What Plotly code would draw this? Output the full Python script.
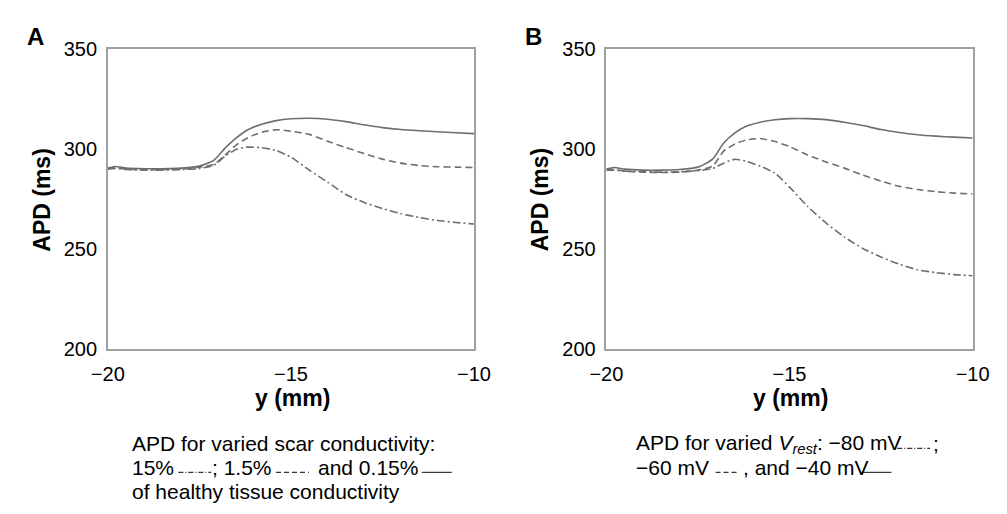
import plotly.graph_objects as go

# ---------------- data ----------------
y_mm = [-20, -19.8, -19.5, -19, -18.5, -18, -17.5, -17.1, -16.8, -16.5, -16.2, -15.8,
        -15.4, -15, -14.5, -14, -13.5, -13, -12.5, -12, -11.5, -11, -10.5, -10]

# Panel A: scar conductivity (% of healthy tissue)
a_015 = [290.5, 291.3, 290.5, 290.2, 290.2, 290.5, 291.5, 294.5, 300.5, 305.5, 309.5, 312.5,
         314.3, 315.2, 315.5, 315.0, 313.8, 312.2, 310.8, 309.8, 309.2, 308.7, 308.2, 307.8]
a_15 = [290.5, 290.8, 290.0, 289.7, 289.8, 290.0, 291.0, 292.5, 297.0, 302.0, 305.5, 308.5,
        309.7, 309.0, 307.4, 304.0, 300.8, 297.8, 295.0, 293.0, 291.8, 291.2, 291.0, 290.8]
a_150 = [290.0, 290.3, 289.8, 289.5, 289.5, 289.8, 290.3, 292.0, 296.5, 299.8, 301.0, 300.7,
         299.3, 296.0, 289.5, 283.5, 277.3, 273.3, 270.3, 267.7, 265.8, 264.3, 263.3, 262.5]

# Panel B: resting potential
b_m40 = [290.0, 290.8, 290.0, 289.5, 289.5, 289.8, 291.0, 295.0, 303.0, 308.0, 311.3, 313.5,
         314.7, 315.3, 315.3, 314.8, 313.5, 311.8, 309.8, 308.3, 307.2, 306.5, 306.0, 305.6]
b_m60 = [290.0, 289.8, 289.0, 288.5, 288.3, 288.5, 289.5, 291.5, 299.0, 302.5, 304.5, 305.3,
         303.8, 301.3, 297.0, 293.6, 290.5, 287.0, 284.0, 281.4, 279.8, 278.7, 278.0, 277.6]
b_m80 = [289.5, 289.5, 289.0, 288.8, 288.5, 288.7, 289.2, 290.3, 293.0, 294.9, 294.0, 291.5,
         288.0, 281.0, 271.2, 263.0, 256.0, 250.3, 246.0, 242.4, 239.6, 238.2, 237.2, 236.6]

x_ticks = [-20, -15, -10]
x_ticktext = ["\u221220", "\u221215", "\u221210"]
y_ticks = [200, 250, 300, 350]

# ---------------- figure ----------------
FONT = "Arial, Liberation Sans, Helvetica, sans-serif"
LC = "#6e6e6e"
DASHDOT = "8px,3px,2px,3px"

fig = go.Figure()

def add(x, y, dash, xa, ya):
    fig.add_trace(go.Scatter(x=x, y=y, mode="lines", xaxis=xa, yaxis=ya,
                             line=dict(color=LC, width=1.6, dash=dash, shape="spline", smoothing=0.6),
                             showlegend=False, hoverinfo="skip"))

add(y_mm, a_150, DASHDOT, "x", "y")
add(y_mm, a_15, "7px,4px", "x", "y")
add(y_mm, a_015, "solid", "x", "y")
add(y_mm, b_m80, DASHDOT, "x2", "y2")
add(y_mm, b_m60, "7px,4px", "x2", "y2")
add(y_mm, b_m40, "solid", "x2", "y2")

W, H = 1007, 514
def px(x): return x / W
def py(y): return 1 - y / H

axcommon = dict(showline=True, mirror=True, linecolor="#a0a0a0", linewidth=1.5,
                showgrid=False, zeroline=False, ticks="",
                tickfont=dict(family=FONT, size=20, color="black"))

fig.update_layout(
    width=W, height=H, margin=dict(l=0, r=0, t=0, b=0),
    paper_bgcolor="white", plot_bgcolor="white",
    font=dict(family=FONT, color="black"),
    xaxis=dict(domain=[px(94), px(473)], range=[-20, -10], tickvals=x_ticks,
               ticktext=x_ticktext, anchor="y", ticklabelstandoff=6, **axcommon),
    yaxis=dict(domain=[py(353), py(40)], range=[200, 350], tickvals=y_ticks,
               anchor="x", ticklabelstandoff=5, **axcommon),
    xaxis2=dict(domain=[px(610), px(989)], range=[-20, -10], tickvals=x_ticks,
                ticktext=x_ticktext, anchor="y2", ticklabelstandoff=6, **axcommon),
    yaxis2=dict(domain=[py(353), py(40)], range=[200, 350], tickvals=y_ticks,
                anchor="x2", ticklabelstandoff=5, **axcommon),
)

ann = []
def text(x, y, s, size=21, bold=False, xanchor="left", angle=0):
    if bold:
        s = "<b>" + s + "</b>"
    ann.append(dict(x=px(x), y=py(y), xref="paper", yref="paper", text=s, showarrow=False,
                    xanchor=xanchor, yanchor="middle", textangle=angle, borderpad=0,
                    font=dict(family=FONT, size=size, color="black")))

# panel letters
text(19, 27, "A", size=24, bold=True, xanchor="center")
text(535, 27, "B", size=24, bold=True, xanchor="center")
# axis titles
text(25, 197, "APD (ms)", size=23, bold=True, xanchor="center", angle=-90)
text(541, 197, "APD (ms)", size=23, bold=True, xanchor="center", angle=-90)
text(285, 404, "y (mm)", size=23, bold=True, xanchor="center")
text(801, 404, "y (mm)", size=23, bold=True, xanchor="center")

# caption A
text(118, 452, "APD for varied scar conductivity:")
text(118, 477, "15%")
text(201, 477, "; 1.5%")
text(310, 477, "and 0.15%")
text(118, 502, "of healthy tissue conductivity")
# caption B
text(640, 452, "APD for varied <i>V</i><sub><i>rest</i></sub>: \u221280 mV")
text(947, 452, ";")
text(640, 477, "\u221260 mV")
text(750, 477, ", and \u221240 mV")

fig.update_layout(annotations=ann)

shapes = []
def seg(x0, x1, y, dash):
    shapes.append(dict(type="line", xref="paper", yref="paper", x0=px(x0), x1=px(x1),
                       y0=py(y), y1=py(y), line=dict(color="#333333", width=1.2, dash=dash)))

seg(167, 201, 482, "5px,2px,1px,2px")
seg(268, 302, 482, "5px,3px")
seg(419, 450, 482, "solid")
seg(911, 945, 457, "5px,2px,1px,2px")
seg(723, 746, 482, "5px,3px")
seg(874, 905, 482, "solid")
fig.update_layout(shapes=shapes)

fig.write_html("out.html")
